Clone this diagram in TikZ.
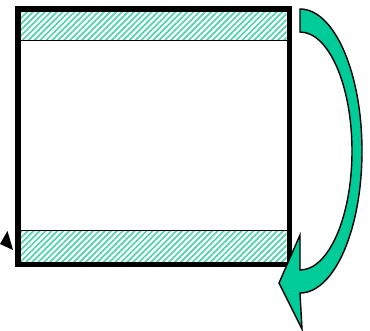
\documentclass[tikz,border=0pt]{standalone}
\usetikzlibrary{patterns.meta}
\definecolor{arrowgreen}{RGB}{0,204,153}
\definecolor{hatchgreen}{RGB}{80,210,172}
\tikzset{
  hatchband/.style={pattern={Lines[angle=45,distance=4.2pt,line width=1.7pt]},pattern color=hatchgreen},
  bandline/.style={line width=1pt,black},
  frame/.style={line width=5.5pt,black},
  bigarrow/.style={fill=arrowgreen,draw=black,line width=1.4pt,line join=miter}
}
\begin{document}
\begin{tikzpicture}[x=1pt,y=1pt]
\useasboundingbox (0,0) rectangle (370,330);
% hatched bands
\fill[hatchband] (20.5,318.3) rectangle (286.7,289);
\fill[hatchband] (20.5,100) rectangle (286.7,68.3);
\draw[bandline] (20.5,289) -- (286.7,289);
\draw[bandline] (20.5,100) -- (286.7,100);
% frame
\draw[frame] (17.8,321.2) rectangle (289.5,65.3);
% green curved arrow
\draw[bigarrow] (300,321)
  arc[start angle=90,end angle=-90,x radius=62,y radius=142]
  -- (302,1) -- (279,47) -- (300,95) -- (300,60)
  arc[start angle=-90,end angle=90,x radius=52,y radius=119]
  -- cycle;
% small black arrowhead at left
\fill[black] (7.5,99) -- (0,86) -- (13,80) -- cycle;
\end{tikzpicture}
\end{document}
